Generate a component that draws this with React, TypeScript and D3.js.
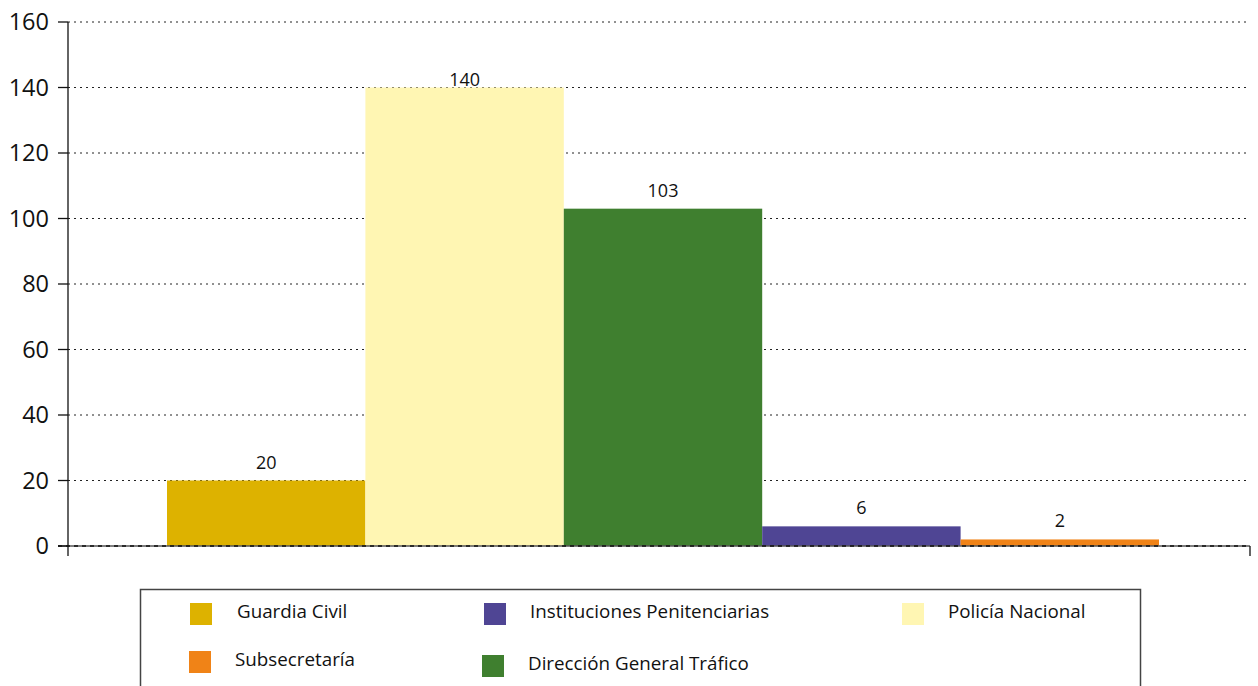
import React from "react";
import * as d3 from "d3";

const categories = ["Guardia Civil", "Policía Nacional", "Dirección General Tráfico", "Instituciones Penitenciarias", "Subsecretaría"];
const values = [20, 140, 103, 6, 2];
const colors = ["#DDB200", "#FFF6B3", "#3F7F2F", "#4F4594", "#F08317"];
const yTicks = [0, 20, 40, 60, 80, 100, 120, 140, 160];

const legendItems = [
  { name: "Guardia Civil", color: "#DDB200", sx: 190, sy: 603, tx: 237, ty: 618 },
  { name: "Instituciones Penitenciarias", color: "#4F4594", sx: 484, sy: 603, tx: 530, ty: 618 },
  { name: "Policía Nacional", color: "#FFF6B3", sx: 902, sy: 603, tx: 948, ty: 618 },
  { name: "Subsecretaría", color: "#F08317", sx: 189, sy: 651, tx: 235, ty: 666 },
  { name: "Dirección General Tráfico", color: "#3F7F2F", sx: 482, sy: 655, tx: 528, ty: 670 },
];

export default function App() {
  const W = 1258, H = 686;
  const axisX = 68, rightX = 1250;
  const y = d3.scaleLinear().domain([0, 160]).range([546, 22]);
  const x = d3.scaleBand<string>().domain(categories).range([167, 1159]).padding(0);
  const font = "'Open Sans', 'Noto Sans', sans-serif";

  return (
    <svg width={W} height={H} style={{ position: "absolute", left: 0, top: 0, background: "#fff" }}>
      {yTicks.filter(t => t > 0).map(t => (
        <line key={t} x1={axisX} x2={rightX} y1={y(t)} y2={y(t)} stroke="#222" strokeWidth={1} strokeDasharray="2,4" />
      ))}
      {categories.map((c, i) => (
        <rect key={c} x={x(c)} y={y(values[i])} width={x.bandwidth()} height={y(0) - y(values[i])} fill={colors[i]} />
      ))}
      {categories.map((c, i) => (
        <text key={c} x={(x(c) as number) + x.bandwidth() / 2} y={values[i] >= 140 ? y(values[i]) - 2 : y(values[i]) - 12}
          textAnchor="middle" fontFamily={font} fontSize={18} fill="#111">{values[i]}</text>
      ))}
      <line x1={58} x2={rightX} y1={y(0)} y2={y(0)} stroke="#555" strokeWidth={1.5} />
      <line x1={58} x2={rightX} y1={y(0)} y2={y(0)} stroke="#111" strokeWidth={1.5} strokeDasharray="4,4" />
      <line x1={axisX} x2={axisX} y1={y(160)} y2={556} stroke="#111" strokeWidth={1.3} />
      <line x1={rightX} x2={rightX} y1={y(0)} y2={556} stroke="#111" strokeWidth={1.3} />
      {yTicks.map(t => (
        <g key={t}>
          <line x1={58} x2={axisX} y1={y(t)} y2={y(t)} stroke="#111" strokeWidth={1.3} />
          <text x={49} y={y(t)} dy="0.36em" textAnchor="end" fontFamily={font} fontSize={23.5} fill="#111">{t}</text>
        </g>
      ))}
      <rect x={140.5} y={589.5} width={1000} height={120} fill="none" stroke="#444" strokeWidth={1.5} />
      {legendItems.map(l => (
        <g key={l.name}>
          <rect x={l.sx} y={l.sy} width={22} height={22} fill={l.color} />
          <text x={l.tx} y={l.ty} fontFamily={font} fontSize={18.8} fill="#111">{l.name}</text>
        </g>
      ))}
    </svg>
  );
}
